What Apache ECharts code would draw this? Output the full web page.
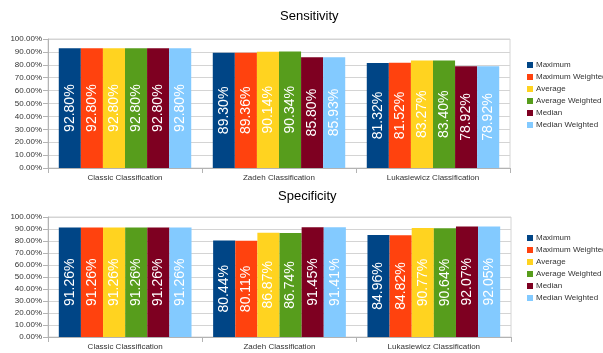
<!DOCTYPE html>
<html>
<head>
<meta charset="utf-8">
<script src="https://cdn.jsdelivr.net/npm/echarts@6/dist/echarts.min.js"></script>
<style>
  html, body { margin: 0; padding: 0; background: #fff; }
  #chart { width: 603px; height: 353px; }
</style>
</head>
<body>
<div id="chart"></div>
<script>
// Classification methods (x categories)
const categories = ['Classic Classification', 'Zadeh Classification', 'Lukasiewicz Classification'];

// Aggregation methods (series)
const seriesNames = ['Maximum', 'Maximum Weighted', 'Average', 'Average Weighted', 'Median', 'Median Weighted'];
const seriesColors = ['#004586', '#ff420e', '#ffd320', '#579d1c', '#7e0021', '#83caff'];

// Sensitivity (%) per series, in category order
const sensMaximum = [92.80, 89.30, 81.32];
const sensMaximumWeighted = [92.80, 89.36, 81.52];
const sensAverage = [92.80, 90.14, 83.27];
const sensAverageWeighted = [92.80, 90.34, 83.40];
const sensMedian = [92.80, 85.80, 78.92];
const sensMedianWeighted = [92.80, 85.93, 78.92];

// Specificity (%) per series, in category order
const specMaximum = [91.26, 80.44, 84.96];
const specMaximumWeighted = [91.26, 80.11, 84.82];
const specAverage = [91.26, 86.87, 90.77];
const specAverageWeighted = [91.26, 86.74, 90.64];
const specMedian = [91.26, 91.45, 92.07];
const specMedianWeighted = [91.26, 91.41, 92.05];

const sensData = [sensMaximum, sensMaximumWeighted, sensAverage, sensAverageWeighted, sensMedian, sensMedianWeighted];
const specData = [specMaximum, specMaximumWeighted, specAverage, specAverageWeighted, specMedian, specMedianWeighted];

const font = 'Liberation Sans, Arial, sans-serif';

function xAxisFor(gridIndex) {
  return {
    type: 'category', gridIndex, data: categories,
    axisLine: { lineStyle: { color: '#b3b3b3' } },
    axisTick: { show: true, length: 5, lineStyle: { color: '#b3b3b3' } },
    axisLabel: { fontFamily: font, fontSize: 8, color: '#333', margin: 6 }
  };
}
function yAxisFor(gridIndex) {
  return {
    type: 'value', gridIndex, min: 0, max: 100, interval: 10,
    axisLine: { show: true, lineStyle: { color: '#b3b3b3' } },
    axisTick: { show: true, length: 5, lineStyle: { color: '#b3b3b3' } },
    axisLabel: { fontFamily: font, fontSize: 8, color: '#333', margin: 6,
      formatter: v => v.toFixed(2) + '%' },
    splitLine: { lineStyle: { color: '#d4d4d4' } }
  };
}
function barSeries(dataSets, axisIndex) {
  return dataSets.map((vals, i) => ({
    name: seriesNames[i], type: 'bar',
    xAxisIndex: axisIndex, yAxisIndex: axisIndex,
    data: vals,
    barGap: '0%', barCategoryGap: '14%',
    itemStyle: { color: seriesColors[i] },
    label: {
      show: true, position: 'inside', rotate: 90,
      color: '#fff', fontFamily: font, fontSize: 14,
      formatter: p => p.value.toFixed(2) + '%'
    }
  }));
}
function legendFor(top) {
  return {
    orient: 'vertical', left: 522, top,
    itemWidth: 6, itemHeight: 6, itemGap: 2,
    icon: 'rect',
    textStyle: { fontFamily: font, fontSize: 8, color: '#333', lineHeight: 10, padding: [0, 0, 0, -2] },
    data: seriesNames
  };
}

const chart = echarts.init(document.getElementById('chart'), null, { renderer: 'canvas' });
chart.setOption({
  animation: false,
  title: [
    { text: 'Sensitivity', left: 275, top: 5,
      textStyle: { fontFamily: font, fontSize: 13, fontWeight: 'normal', color: '#000' } },
    { text: 'Specificity', left: 273, top: 185,
      textStyle: { fontFamily: font, fontSize: 13, fontWeight: 'normal', color: '#000' } }
  ],
  legend: [ legendFor(55), legendFor(228) ],
  grid: [
    { left: 48, top: 39, width: 462, height: 129, show: true, borderColor: '#d4d4d4', borderWidth: 1 },
    { left: 48, top: 217, width: 463, height: 120, show: true, borderColor: '#d4d4d4', borderWidth: 1 }
  ],
  xAxis: [ xAxisFor(0), xAxisFor(1) ],
  yAxis: [ yAxisFor(0), yAxisFor(1) ],
  series: [ ...barSeries(sensData, 0), ...barSeries(specData, 1) ]
});
</script>
</body>
</html>
